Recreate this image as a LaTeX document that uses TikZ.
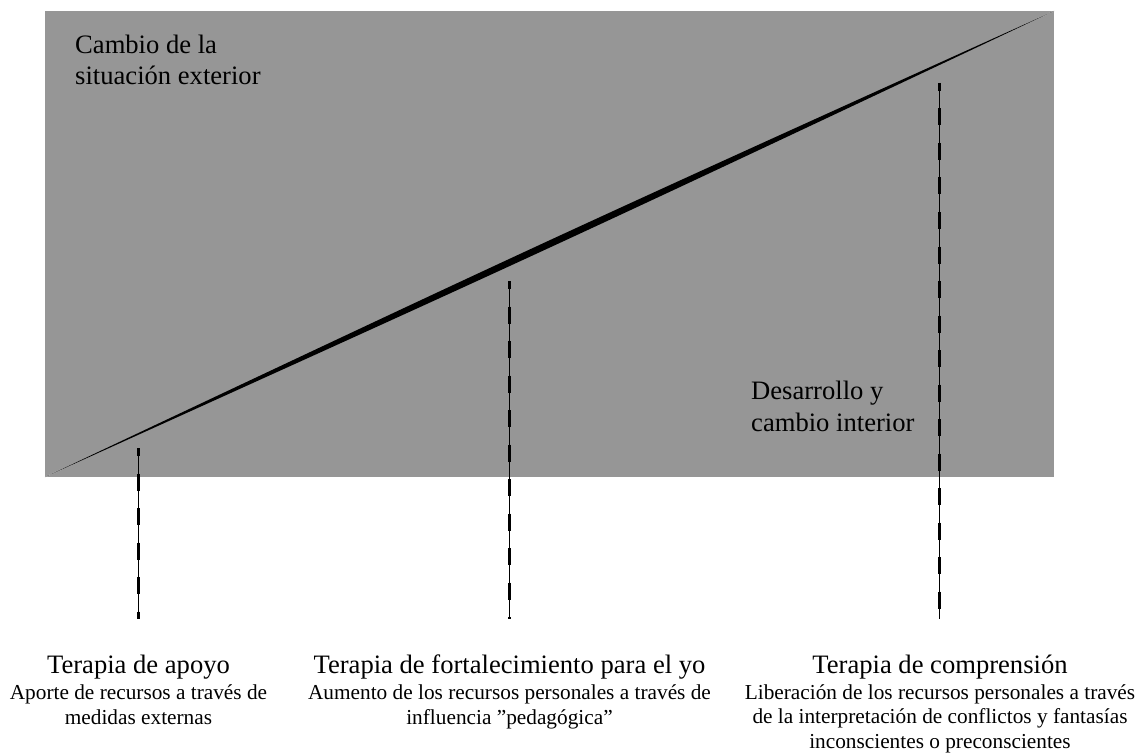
\documentclass[tikz,border=0pt]{standalone}
\usepackage{fontspec}
\setmainfont{Liberation Serif}
\definecolor{bggray}{RGB}{150,150,150}
\begin{document}
\begin{tikzpicture}[x=1pt,y=-1pt,
  bigtxt/.style={inner sep=0pt,font=\fontsize{26.6}{31.7}\selectfont},
  subtxt/.style={inner sep=0pt,align=center,font=\fontsize{21.3}{24.8}\selectfont},
  guide/.style={draw=black,line width=0.35pt},
  dashes/.style={draw=black,line width=3pt,dash pattern=on 17pt off 17.5pt,dash phase=9pt}]
\useasboundingbox (0,0) rectangle (1145,754);
\fill[bggray] (45,11) rectangle (1054,477);
% diagonal wedge
\coordinate (L) at (45,477);
\coordinate (R) at (1054,11);
\coordinate (C1) at (551.9,247.8);
\coordinate (C2) at (547.1,240.2);
\draw[white!85!black,line width=0.6pt] (L) -- (R);
\fill[black] (L) .. controls (C1) .. (R) .. controls (C2) .. (L);
% labels inside (base anchor = baseline of last line)
\node[bigtxt,anchor=base west,align=left] (ext) at (75,85) {Cambio de la\\situación exterior};
\node[bigtxt,anchor=base west,align=left] (int) at (751,431) {Desarrollo y\\cambio interior};
% dashed markers
\coordinate (a1) at (138.5,448);
\coordinate (a2) at (138.5,619);
\coordinate (b1) at (509.5,281);
\coordinate (b2) at (509.5,619);
\coordinate (c1) at (939,83);
\coordinate (c2) at (939,619);
\foreach \p/\q in {a1/a2,b1/b2,c1/c2}{
  \draw[guide] (\p) -- (\q);
  \draw[dashes] (\p) -- (\q);
}
% bottom texts
\node[bigtxt,anchor=base] (t1) at (138.5,673) {Terapia de apoyo};
\node[subtxt,anchor=base] (s1) at (138.5,724) {Aporte de recursos a través de\\medidas externas};
\node[bigtxt,anchor=base] (t2) at (509.5,673) {Terapia de fortalecimiento para el yo};
\node[subtxt,anchor=base] (s2) at (509.5,724) {Aumento de los recursos personales a través de\\influencia ”pedagógica”};
\node[bigtxt,anchor=base] (t3) at (940,673) {Terapia de comprensión};
\node[subtxt,anchor=base] (s3) at (940,748.6) {Liberación de los recursos personales a través\\de la interpretación de conflictos y fantasías\\inconscientes o preconscientes};
\end{tikzpicture}
\end{document}
